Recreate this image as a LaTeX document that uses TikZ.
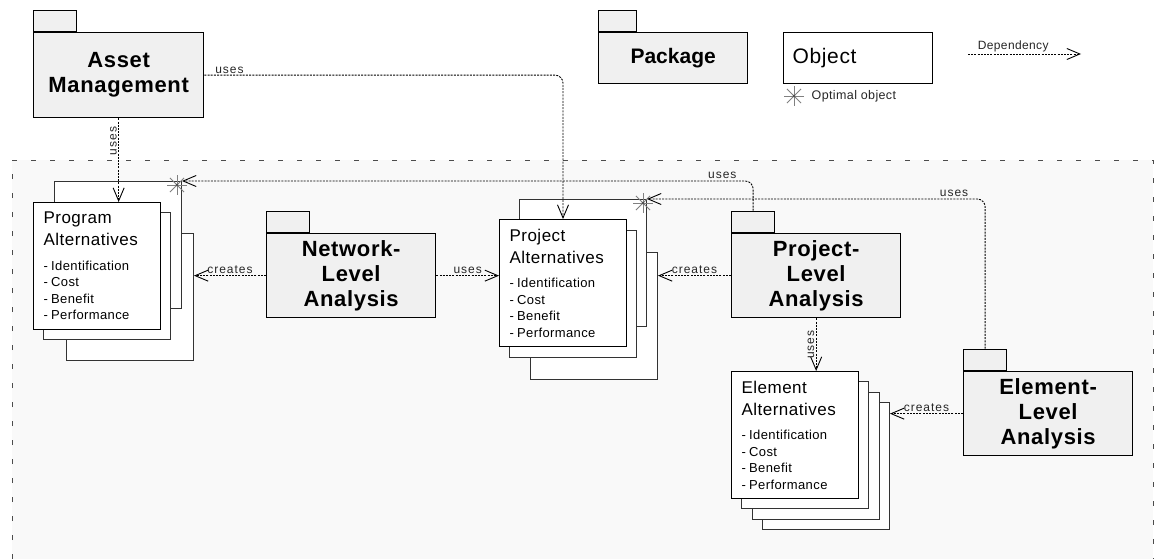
\documentclass[tikz,border=0pt]{standalone}
\usepackage{fontspec}
\setmainfont{Liberation Sans}
\newfontfamily\widefont[LetterSpace=3]{Liberation Sans}
\newfontfamily\lblfont[LetterSpace=8]{Liberation Sans}
\usetikzlibrary{positioning,arrows.meta}
\definecolor{pkgfill}{HTML}{F0F0F0}
\definecolor{areafill}{HTML}{F9F9F9}
\newcommand{\objtitle}{\widefont\fontsize{17}{22}\selectfont}
\newcommand{\objitem}{\fontsize{13}{16.5}\selectfont}

\begin{document}
\begin{tikzpicture}[x=1pt, y=-1pt,
    pkg/.style={draw, line width=1.3pt, fill=pkgfill, minimum width=169pt, minimum height=84pt,
      inner sep=0pt, align=center, anchor=north west,
      font=\widefont\bfseries\fontsize{22}{25}\selectfont},
    pkgtab/.style={draw, line width=1.3pt, fill=pkgfill, minimum width=43pt, minimum height=21pt, inner sep=0pt},
    obj/.style={draw, line width=1pt, fill=white, minimum width=127pt, minimum height=127pt,
      text width=107pt, inner xsep=10pt, align=left, anchor=north west},
    objback/.style={draw=black!80, line width=1pt, fill=white, minimum width=127pt, minimum height=127pt,
      anchor=north west},
    dep/.style={draw=black, line width=0.9pt, dash pattern=on 2pt off 1.2pt, rounded corners=8pt,
      -{Straight Barb[length=13pt, width=11pt, line width=0.9pt]}},
    lbl/.style={font=\lblfont\fontsize{12}{14}\selectfont, inner sep=1.5pt, text=black!85},
    optstar/.pic={
      \foreach \a in {0,45,90,135}
        \draw[black!50, line width=0.9pt] (\a:10pt) -- (\a+180:10pt);
      \fill[black!70] (0,0) circle (1.4pt);
    }]
  \useasboundingbox (0,0) rectangle (1155,559);

  % analysis area
  \fill[areafill] (12,160) rectangle (1153,559);
  \draw[black!70, line width=1pt, dash pattern=on 5pt off 14pt] (12,559) -- (12,160) -- (1153,160) -- (1153,559);

  % legend
  \node[pkg, minimum width=149pt, minimum height=51pt, font=\bfseries\fontsize{21}{25}\selectfont] (legpkg) at (598,32) {Package};
  \node[pkgtab, minimum width=38pt, above right=0pt of legpkg.north west] (legtab) {};
  \node[draw, line width=1.3pt, minimum width=149pt, minimum height=51pt, text width=131pt, inner xsep=9pt,
    align=left, anchor=north west, font=\widefont\fontsize{21}{25}\selectfont] (legobj) at (783,32) {Object};
  \pic at (794,96) {optstar};
  \node[lbl, anchor=west, font=\widefont\fontsize{12.5}{14}\selectfont] (legopt) at (810,96) {Optimal object};
  \coordinate (depa) at (968,54);
  \coordinate (depb) at (1081,54);
  \draw[dep] (depa) -- node[lbl, pos=0.4, above, font=\widefont\fontsize{12}{14}\selectfont] {Dependency} (depb);

  % packages
  \node[pkg, minimum width=170pt, minimum height=85pt] (am) at (33,32) {Asset\\Management};
  \node[pkgtab, above right=0pt of am.north west] (amtab) {};
  \node[pkg] (net) at (266,233) {Network-\\Level\\Analysis};
  \node[pkgtab, above right=0pt of net.north west] (nettab) {};
  \node[pkg] (projlvl) at (731,233) {Project-\\Level\\Analysis};
  \node[pkgtab, above right=0pt of projlvl.north west] (projtab) {};
  \node[pkg] (elemlvl) at (963,371) {Element-\\Level\\Analysis};
  \node[pkgtab, above right=0pt of elemlvl.north west] (elemtab) {};

  % program alternatives
  \node[objback] (prog4) at (66,233) {};
  \node[objback] (prog3) at (54,181) {};
  \node[objback] (prog2) at (43,212) {};
  \node[obj] (progalt) at (33,202) {\objtitle Program\\ Alternatives\par\vspace{8pt}
    \objitem - Identification\\ - Cost\\ - Benefit\\ - Performance\par};
  \pic at ([shift={(-5pt,-4pt)}]prog3.north east) {optstar};

  % project alternatives
  \node[objback] (proj4) at (530,252) {};
  \node[objback] (proj3) at (519,199) {};
  \node[objback] (proj2) at (509,230) {};
  \node[obj] (projalt) at (499,219) {\objtitle Project\\ Alternatives\par\vspace{8pt}
    \objitem - Identification\\ - Cost\\ - Benefit\\ - Performance\par};
  \pic at ([shift={(-4pt,-4pt)}]proj3.north east) {optstar};

  % element alternatives
  \node[objback] (elem4) at (762,402) {};
  \node[objback] (elem3) at (752,392) {};
  \node[objback] (elem2) at (741,381) {};
  \node[obj] (elemalt) at (731,371) {\objtitle Element\\ Alternatives\par\vspace{8pt}
    \objitem - Identification\\ - Cost\\ - Benefit\\ - Performance\par};

  % dependencies
  \draw[dep] (am.east) -| node[lbl, pos=0.035, above] {uses} (projalt.north);
  \draw[dep] (am.south) -- node[lbl, pos=0.27, rotate=90, anchor=south] {uses} (am.south |- progalt.north);
  \draw[dep] (net.west) -- node[lbl, above] {creates} (net.west -| prog4.east);
  \draw[dep] (net.east) -- node[lbl, above] {uses} (net.east -| projalt.west);
  \draw[dep] (projlvl.west) -- node[lbl, above] {creates} (projlvl.west -| proj4.east);
  \draw[dep] (projtab.north) |- node[lbl, pos=0.527, above] {uses} (prog3.north east);
  \draw[dep] (elemtab.north) |- node[lbl, pos=0.546, above] {uses} (proj3.north east);
  \draw[dep] (projlvl.south) -- node[lbl, midway, rotate=90, anchor=south] {uses} (projlvl.south |- elemalt.north);
  \draw[dep] (elemlvl.west) -- node[lbl, above] {creates} (elemlvl.west -| elem4.east);
\end{tikzpicture}
\end{document}
